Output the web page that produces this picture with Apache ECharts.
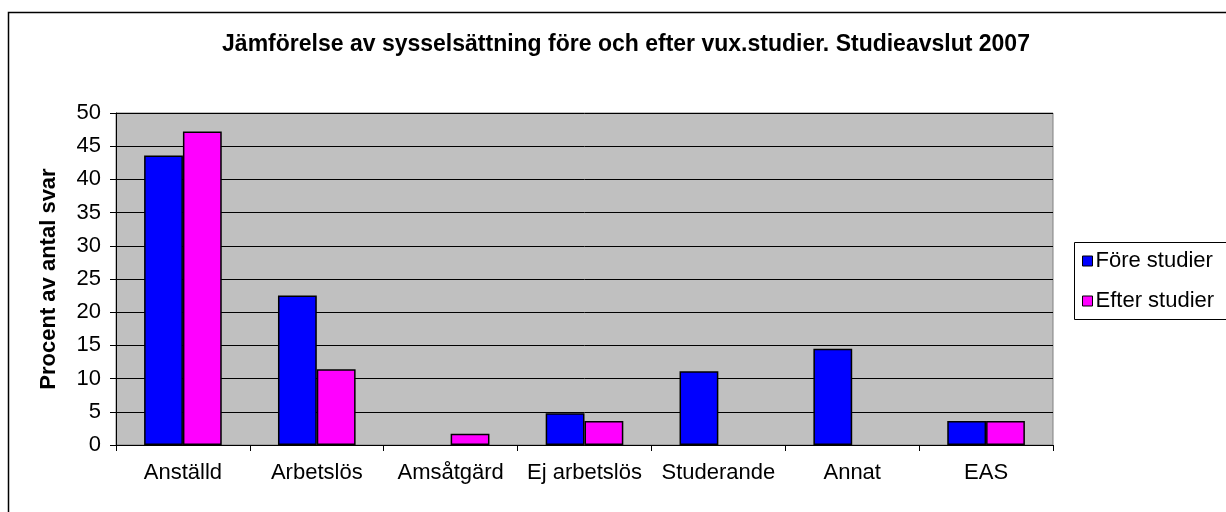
<!DOCTYPE html>
<html><head><meta charset="utf-8">
<script src="https://cdn.jsdelivr.net/npm/echarts@6/dist/echarts.min.js"></script>
<style>html,body{margin:0;padding:0;background:#fff}#c{width:1226px;height:512px}</style>
</head><body><div id="c"></div>
<script>
const categories = ['Anställd','Arbetslös','Amsåtgärd','Ej arbetslös','Studerande','Annat','EAS'];
const foreStudier = [43.6, 22.5, 0, 4.8, 11.1, 14.5, 3.6];
const efterStudier = [47.2, 11.4, 1.7, 3.6, 0, 0, 3.6];
const seriesNames = ['Före studier','Efter studier'];
const titleText = 'Jämförelse av sysselsättning före och efter vux.studier. Studieavslut 2007';
const yAxisName = 'Procent av antal svar';

const font = '"Liberation Sans", Arial, sans-serif';
// zero-height bars are drawn without an outline, as in the original
const toData = arr => arr.map(v => v === 0 ? { value: 0, itemStyle: { borderWidth: 0 } } : v);

const chart = echarts.init(document.getElementById('c'));
chart.setOption({
  animation: false,
  backgroundColor: '#fff',
  title: {
    text: titleText, left: 621, top: 28, textAlign: 'center',
    textStyle: { fontFamily: font, fontSize: 23, fontWeight: 'bold', color: '#000' }
  },
  graphic: [
    { type: 'rect', shape: { x: 8.5, y: 12.5, width: 1240, height: 540 }, style: { fill: null, stroke: '#000', lineWidth: 1.5 }, z: -1 },
    { type: 'rect', shape: { x: 1074.5, y: 242.5, width: 160, height: 77 }, style: { fill: '#fff', stroke: '#000', lineWidth: 1 }, z: 1 }
  ],
  legend: {
    orient: 'vertical', left: 1082, top: 250, itemGap: 18,
    itemWidth: 10, itemHeight: 10, icon: 'rect', z: 5, padding: 0,
    data: seriesNames,
    itemStyle: { borderColor: '#000', borderWidth: 1 },
    textStyle: { fontFamily: font, fontSize: 22, color: '#000', padding: [0,0,0,-2] }
  },
  grid: {
    left: 116, right: 173, top: 113, bottom: 67, show: true,
    backgroundColor: '#C0C0C0', borderColor: '#808080', borderWidth: 1
  },
  xAxis: {
    type: 'category', data: categories,
    axisLine: { lineStyle: { color: '#000', width: 1 } },
    axisTick: { show: true, length: 6, lineStyle: { color: '#000' } },
    axisLabel: { fontFamily: font, fontSize: 22, color: '#000', margin: 17, interval: 0 },
    splitLine: { show: false }
  },
  yAxis: {
    type: 'value', min: 0, max: 50, interval: 5,
    name: yAxisName, nameLocation: 'middle', nameGap: 56,
    nameTextStyle: { fontFamily: font, fontSize: 22, fontWeight: 'bold', color: '#000' },
    axisLine: { show: true, lineStyle: { color: '#000', width: 1 } },
    axisTick: { show: true, length: 6, lineStyle: { color: '#000' } },
    axisLabel: { fontFamily: font, fontSize: 22, color: '#000', margin: 15 },
    splitLine: { show: true, lineStyle: { color: '#000', width: 1 } }
  },
  series: [
    { name: seriesNames[0], type: 'bar', data: toData(foreStudier), barGap: '0%', barCategoryGap: '42%',
      itemStyle: { color: '#0000FF', borderColor: '#000', borderWidth: 1.5 } },
    { name: seriesNames[1], type: 'bar', data: toData(efterStudier), barGap: '0%', barCategoryGap: '42%',
      itemStyle: { color: '#FF00FF', borderColor: '#000', borderWidth: 1.5 } }
  ]
});
</script></body></html>
